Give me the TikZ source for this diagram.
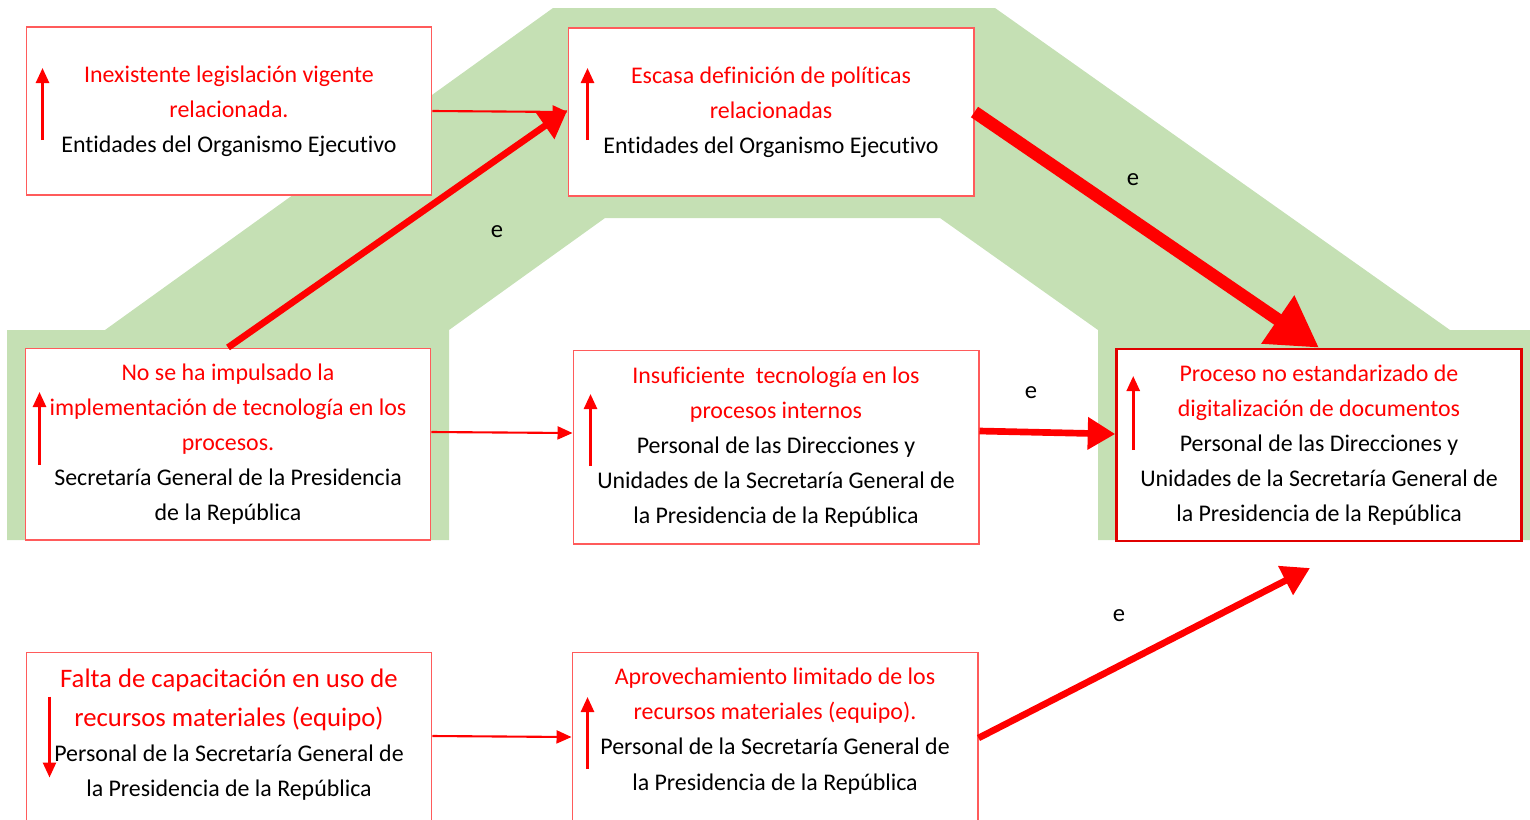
\documentclass[tikz,border=0pt]{standalone}
\usepackage{fontspec}
\setmainfont{Carlito}[Ligatures=NoCommon]
\usepackage{tikz}
\definecolor{band}{HTML}{C5E0B4}
\definecolor{boxline}{HTML}{FF5B5B}
\definecolor{hot}{HTML}{FF0000}
\definecolor{ink}{HTML}{000000}
\usetikzlibrary{
  arrows.meta,
  positioning,
  calc
}
\newcommand{\rd}[1]{\textcolor{hot}{#1}}
\tikzset{
  every node/.style={font=\fontsize{13.6}{20}\selectfont, text=ink},
  box/.style={
    draw=boxline,
    fill=white,
    line width=0.6pt,
    align=center,
    minimum width=8.12cm,
    minimum height=3.36cm,
    inner sep=0pt
  },
  keybox/.style={box, draw=hot!88!black, line width=1.5pt},
  flow/.style={draw=hot, line width=1.2pt, -{Triangle[length=0.3cm, width=0.26cm]}},
  thickflow/.style={draw=hot, line width=3.8pt, -{Triangle[length=0.55cm, width=0.62cm]}},
  heavyflow/.style={draw=hot, line width=7.2pt, -{Triangle[length=1.0cm, width=1.1cm]}},
  trend/.style={draw=hot, line width=1.5pt, -{Triangle[length=0.3cm, width=0.26cm]}},
  annot/.style={font=\fontsize{14}{17}\selectfont, text=ink}
}

\begin{document}
\begin{tikzpicture}[x=0.02cm, y=-0.02cm]
  \useasboundingbox (0,0) rectangle (1530,819);
  \clip (0,0) rectangle (1530,819);

  % Green band behind the chain
  \fill[band] (7,540) -- (7,330) -- (105,330) -- (553,8) -- (995,8) -- (1450,330)
    -- (1530,330) -- (1530,540) -- (1098,540) -- (1098,330) -- (940,218)
    -- (605,218) -- (449,330) -- (449,540) -- cycle;

  % Boxes
  \node[box] (b1) at (229,111) {\rd{Inexistente legislación vigente}\\\rd{relacionada.}\\Entidades del Organismo Ejecutivo};
  \node[box] (b2) at (771,112) {\rd{Escasa definición de políticas}\\\rd{relacionadas}\\Entidades del Organismo Ejecutivo};
  \node[box, minimum height=3.84cm] (b3) at (228,444) {\rd{No se ha impulsado la}\\\rd{implementación de tecnología en los}\\\rd{procesos.}\\Secretaría General de la Presidencia\\de la República};
  \node[box, minimum height=3.88cm] (b4) at (776,447) {\rd{Insuficiente\ \ tecnología en los}\\\rd{procesos internos}\\Personal de las Direcciones y\\Unidades de la Secretaría General de\\la Presidencia de la República};
  \node[keybox, minimum width=8.1cm, minimum height=3.84cm] (b5) at (1319,445) {\rd{Proceso no estandarizado de}\\\rd{digitalización de documentos}\\Personal de las Direcciones y\\Unidades de la Secretaría General de\\la Presidencia de la República};
  \node[box, minimum height=3.56cm] (b6) at (229,741) {};
  \node[box, minimum height=3.54cm] (b7) at (775,741) {};
  \node[align=center] (t6) at (229,735) {\rd{\fontsize{15.2}{22}\selectfont Falta de capacitación en uso de}\\[2pt]\rd{\fontsize{15.2}{22}\selectfont recursos materiales (equipo)}\\Personal de la Secretaría General de\\la Presidencia de la República};
  \node[align=center] (t7) at (775,731) {\rd{Aprovechamiento limitado de los}\\\rd{recursos materiales (equipo).}\\Personal de la Secretaría General de\\la Presidencia de la República};

  % Trend marks
  \draw[trend] ($(b1.west)+(17,29)$) -- ($(b1.west)+(17,-43)$);
  \draw[trend] ($(b2.west)+(20,28)$) -- ($(b2.west)+(20,-44)$);
  \draw[trend] ($(b3.west)+(15,21)$) -- ($(b3.west)+(15,-52)$);
  \draw[trend] ($(b4.west)+(18,19)$) -- ($(b4.west)+(18,-53)$);
  \draw[trend] ($(b5.west)+(18,5)$) -- ($(b5.west)+(18,-69)$);
  \draw[trend] ($(b6.north west)+(24,45)$) -- ($(b6.north west)+(24,126)$);
  \draw[trend] ($(b7.north west)+(16,117)$) -- ($(b7.north west)+(16,45)$);

  % Links
  \coordinate (tip) at (1310,568);
  \draw[flow] (b1.east) -- (b2.west);
  \draw[thickflow] (b3.north) -- ([yshift=0.04cm]b2.west);
  \draw[heavyflow] (b2.east) -- (b5.north);
  \draw[flow] ([yshift=0.24cm]b3.east) -- ([yshift=0.28cm]b4.west);
  \draw[thickflow] ([yshift=0.32cm]b4.east) -- ([yshift=0.22cm]b5.west);
  \draw[flow] ([yshift=0.1cm]b6.east) -- ([yshift=0.08cm]b7.west);
  \draw[thickflow] ([yshift=0.06cm]b7.east) -- (tip);

  % Labels
  \node[annot] (e1) at (497,232) {e};
  \node[annot] (e2) at (1133,180) {e};
  \node[annot] (e3) at (1031,393) {e};
  \node[annot] (e4) at (1119,616) {e};
\end{tikzpicture}
\end{document}
